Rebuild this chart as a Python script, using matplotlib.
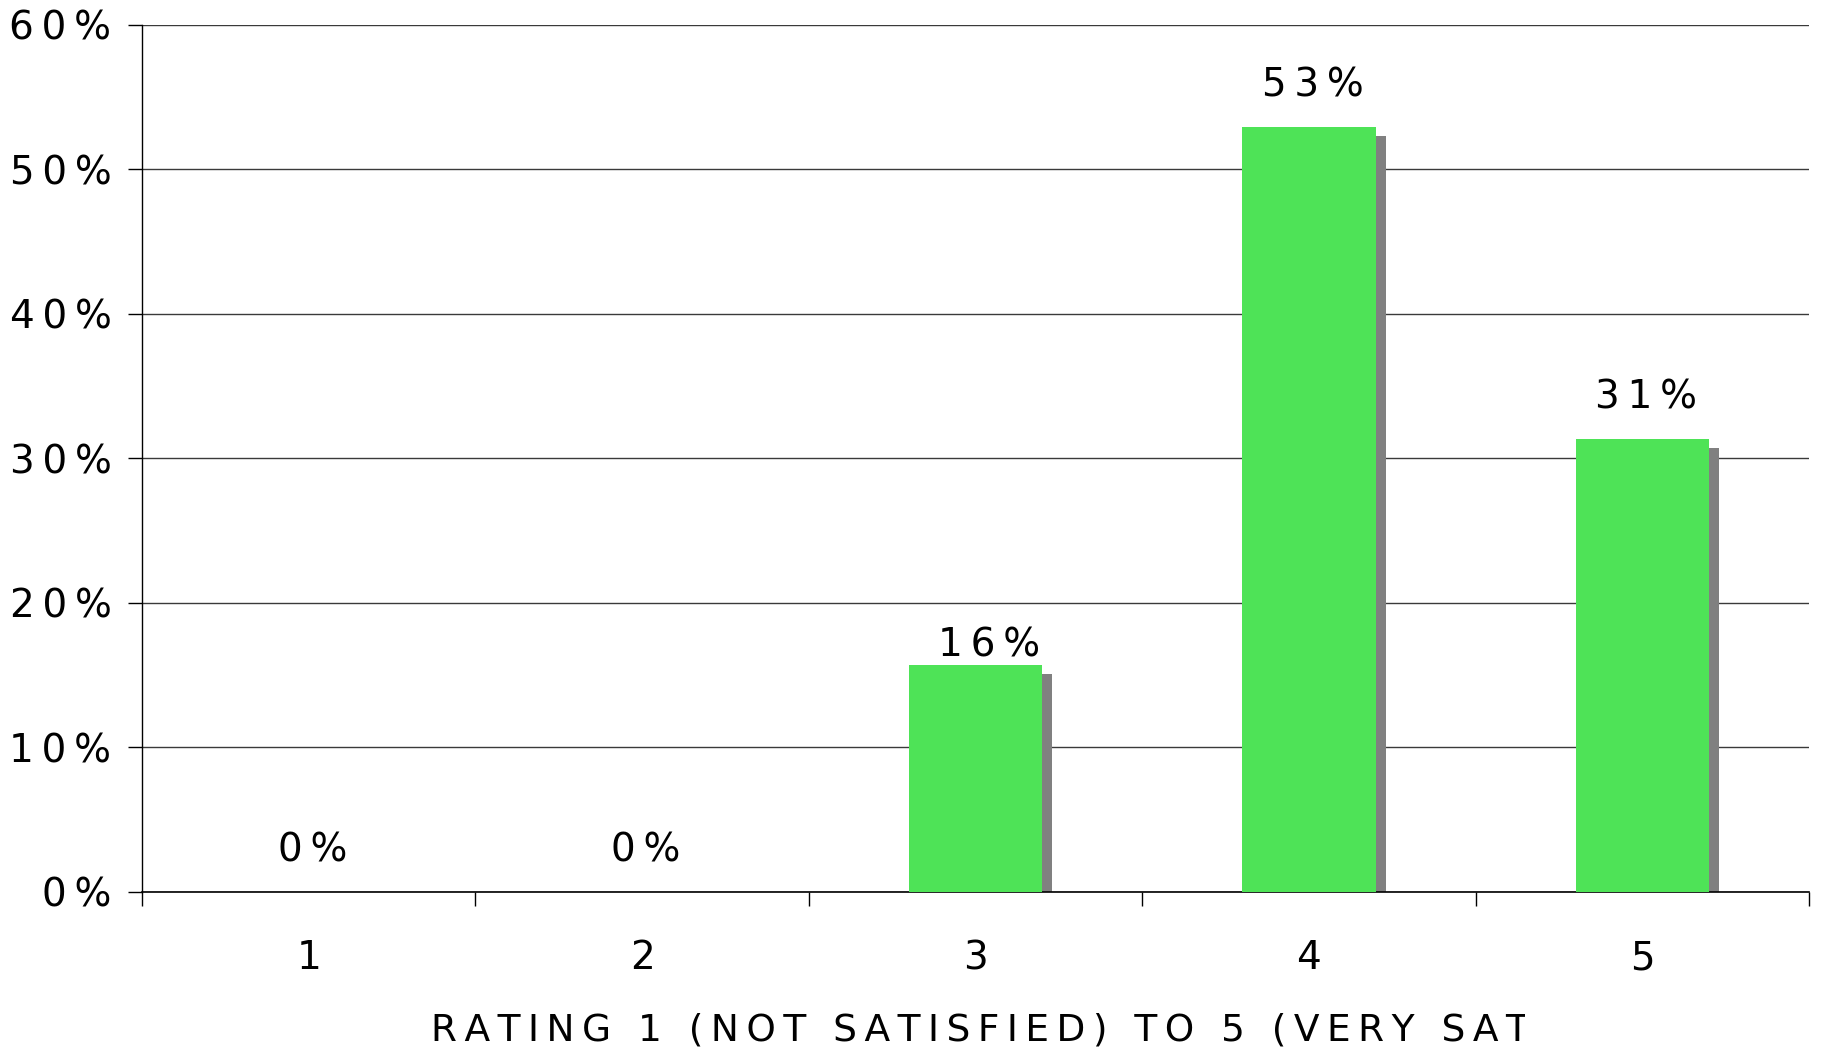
import matplotlib
matplotlib.use("Agg")
import matplotlib.pyplot as plt
import matplotlib.transforms as mtransforms
from matplotlib.patches import Rectangle
from matplotlib.ticker import FixedLocator, NullFormatter

# Survey results: 51 respondents rating satisfaction 1-5
ratings = ["1", "2", "3", "4", "5"]
counts = [0, 0, 8, 27, 16]
respondents = 51
shares = [c / respondents for c in counts]
y_ticks = [0.0, 0.1, 0.2, 0.3, 0.4, 0.5, 0.6]
x_title = "RATING 1 (NOT SATISFIED) TO 5 (VERY SATISFIED)"

BAR = "#4EE357"
SHADOW = "#808080"
GRID = "#3a3a3a"
SP = "\u2009"  # thin space for the wide letter spacing


def spaced(s):
    return SP.join(s)


def pct(v):
    return spaced(f"{round(v * 100):d}%")


plt.rcParams["font.family"] = ["DejaVu Sans"]

fig = plt.figure(figsize=(18.25, 10.48), dpi=100)
ax = fig.add_axes([0.0778, 0.1489, 0.9134, 0.8273])

x = list(range(len(ratings)))
width = 0.40

# drop shadow behind each bar
shadow_off = mtransforms.ScaledTranslation(10 / 100, -9 / 100, fig.dpi_scale_trans)
ax.bar(x, shares, width=width, color=SHADOW, zorder=2,
       transform=ax.transData + shadow_off, linewidth=0)
ax.bar(x, shares, width=width, color=BAR, zorder=3, linewidth=0)

ax.set_xlim(-0.5, len(ratings) - 0.5)
ax.set_ylim(0, 0.6)

# value labels above the bars
nudge = {2: -21}
for i, v in enumerate(shares):
    dy = 22 + nudge.get(i, 0)
    dx = 4 + (10 if i == 2 else 0)
    ax.annotate(pct(v), (i, v), xytext=(dx * 0.72, dy * 0.72),
                textcoords="offset points", ha="center", va="bottom",
                fontsize=28, zorder=5)

# axes styling
for side in ("top", "right"):
    ax.spines[side].set_visible(False)
ax.spines["left"].set_color("black")
ax.spines["bottom"].set_color("black")
ax.spines["left"].set_linewidth(1.0)
ax.spines["bottom"].set_linewidth(1.2)

ax.set_yticks(y_ticks)
ax.set_yticklabels([pct(t) for t in y_ticks])
ax.yaxis.grid(True, color=GRID, linewidth=1.0)
ax.set_axisbelow(True)
ax.tick_params(axis="y", length=10, width=1.0, pad=12, labelsize=28)

ax.set_xticks(x)
ax.set_xticklabels(ratings)
ax.tick_params(axis="x", which="major", length=0, pad=34, labelsize=28)
ax.xaxis.set_minor_locator(FixedLocator([i - 0.5 for i in range(len(ratings) + 1)]))
ax.xaxis.set_minor_formatter(NullFormatter())
ax.tick_params(axis="x", which="minor", length=10, width=1.0)

# axis title, cut off at the chart's edge
title = fig.text(431 / 1825, 1 - 1040 / 1048, spaced(x_title),
                 ha="left", va="baseline", fontsize=27)
clip = Rectangle((0, 0), 1525 / 1825, 1, transform=fig.transFigure,
                 facecolor="none", edgecolor="none")
fig.add_artist(clip)
title.set_clip_path(clip)

fig.savefig("out.png", dpi=100)
